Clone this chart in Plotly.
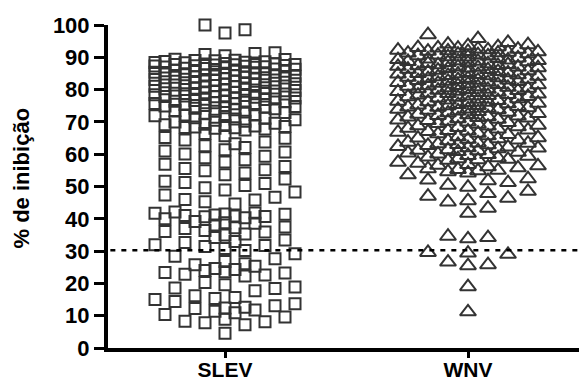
import plotly.graph_objects as go

# ---- data ----
categories = ["SLEV", "WNV"]

slev = [
    100.0, 98.5, 97.5,
    91.4, 90.9, 91.2, 90.5,
    89.3, 88.9, 88.6, 88.1, 88.7, 88.4, 89.1, 87.9, 88.5, 88.2, 89.0, 87.8, 88.3, 89.4, 88.0,
    87.7, 87.4, 87.1, 86.8, 86.4, 87.6, 87.0, 86.2, 87.8, 86.6, 87.3, 86.0, 87.5, 86.9, 86.3, 87.2, 86.5, 86.1,
    85.9, 85.4, 85.1, 84.7, 84.4, 84.1, 83.8, 83.4, 85.7, 84.9, 84.6, 83.9, 83.1, 85.2, 84.8, 83.6, 84.3, 83.0,
    85.5, 84.0, 83.3, 84.5,
    82.9, 82.4, 82.1, 81.7, 81.4, 81.1, 80.9, 80.4, 80.1, 82.6, 81.9, 81.3, 80.6, 80.0, 81.8, 82.2, 81.0, 80.3,
    82.7, 81.6, 80.8, 82.0,
    79.9, 79.4, 79.1, 78.8, 78.4, 78.1, 77.9, 77.4, 77.1, 79.6, 78.9, 78.2, 77.6, 77.0, 78.6, 79.2, 78.0, 77.3,
    79.7, 78.5, 77.8, 79.0,
    76.9, 76.4, 76.1, 75.7, 75.4, 75.1, 74.8, 74.4, 74.1, 76.2, 75.6, 74.9, 74.2, 76.6, 75.9, 74.6, 76.3, 75.3,
    73.8, 73.3, 72.9, 72.5, 72.1, 71.7, 71.3, 70.9, 70.5, 70.2, 73.5, 72.3, 71.1, 70.0, 73.1, 71.9, 70.7,
    69.6, 69.1, 68.7, 68.4, 68.2, 67.8, 68.6, 68.9, 68.3, 67.5, 69.3, 68.0,
    66.4, 65.7, 64.9, 64.4, 63.8, 63.2, 62.6, 65.2, 62.1,
    61.4, 60.7, 60.1, 59.4, 58.9, 58.3, 61.0,
    57.6, 56.9, 56.2, 55.6, 54.9, 54.2, 53.6, 55.2,
    52.3, 51.6, 50.9, 50.3, 49.6, 48.9, 48.3, 51.2,
    47.4, 46.7, 46.0, 45.3, 44.6, 45.8,
    42.1, 41.7, 41.4, 41.2, 40.9, 40.6, 40.3, 40.0, 41.5, 41.0, 40.7, 41.8,
    39.2, 38.6, 38.1, 37.5, 37.0, 36.4, 35.9, 35.3, 38.8, 37.2, 36.1, 35.0,
    34.2, 33.4, 32.7, 32.0, 31.4, 30.8, 30.2, 33.0, 31.7,
    29.2, 28.4, 27.6, 26.8, 26.1, 25.8,
    25.3, 24.6, 24.0, 23.6, 23.2, 22.8, 22.3, 24.3, 23.4, 22.6,
    20.3, 19.6, 18.9, 18.4, 17.7, 18.6,
    16.2, 15.6, 15.0, 14.4, 13.7, 15.3,
    13.1, 12.6, 12.2, 11.8, 11.4, 10.9, 10.4, 12.4,
    9.6, 8.9, 8.3, 7.8, 7.2, 8.1,
    4.6,
]

wnv = [
    97.0, 95.8, 94.6, 94.1, 93.9, 93.6, 93.3, 93.0,
    92.8, 92.5, 92.2, 91.9, 91.6, 91.3, 91.0, 90.7, 90.4, 90.1, 92.6, 92.0, 91.4, 90.8, 90.2, 92.9, 91.7, 91.1, 90.5, 92.3, 91.8,
    89.8, 89.5, 89.2, 88.9, 88.6, 88.3, 88.0, 87.7, 87.4, 87.1, 86.8, 86.5, 86.2, 89.6, 89.0, 88.4, 87.8, 87.2, 86.6, 86.0,
    89.3, 88.7, 88.1, 87.5, 86.9, 86.3, 88.8, 87.0,
    85.8, 85.5, 85.2, 84.9, 84.6, 84.3, 84.0, 83.7, 83.4, 83.1, 82.8, 82.5, 82.2, 85.6, 85.0, 84.4, 83.8, 83.2, 82.6, 82.0,
    85.3, 84.7, 84.1, 83.5, 82.9, 82.3, 84.8, 83.0,
    81.8, 81.5, 81.2, 80.9, 80.6, 80.3, 80.0, 79.7, 79.4, 79.1, 78.8, 78.5, 78.2, 81.6, 81.0, 80.4, 79.8, 79.2, 78.6, 78.0,
    81.3, 80.7, 80.1, 79.5, 78.9, 78.3,
    77.8, 77.4, 77.0, 76.6, 76.2, 75.8, 75.4, 75.0, 74.6, 74.2, 77.6, 76.8, 76.0, 75.2, 74.4, 77.2, 76.4, 75.6, 74.8, 74.0,
    77.9, 75.1, 76.1, 74.5,
    73.8, 73.4, 73.0, 72.6, 72.2, 71.8, 71.4, 71.0, 70.6, 70.2, 73.6, 72.8, 72.0, 71.2, 70.4, 73.2, 72.4, 71.6, 70.8, 70.0,
    73.9, 71.5,
    69.8, 69.3, 68.8, 68.3, 67.8, 67.3, 66.8, 66.3, 69.5, 68.5, 67.5, 66.5, 69.0, 68.0, 67.0, 66.1, 68.7, 67.2,
    65.7, 65.1, 64.6, 64.2, 63.7, 63.2, 62.7, 62.2, 65.4, 64.4, 63.4, 62.4, 64.8, 63.0, 62.0, 65.0,
    63.5, 62.9, 61.9, 60.6, 59.6, 58.4,
    61.7, 61.4, 61.1, 60.8, 60.4, 59.9, 59.4, 58.9, 58.6, 58.3, 61.2, 60.1, 59.1, 58.1,
    57.5, 56.8, 56.1, 55.5, 55.0, 54.6, 54.2, 55.8, 56.4, 54.9, 57.2, 56.6, 55.3,
    53.6, 52.4, 51.8, 51.2, 50.4, 49.8, 52.0,
    48.5, 47.8, 47.0, 46.4, 45.6, 45.2, 43.3, 41.7,
    34.6, 34.2, 33.8,
    29.6, 29.4, 29.0,
    26.6, 25.8, 25.5,
    19.0, 11.2,
]

cutoff = 30.3
y_ticks = [0, 10, 20, 30, 40, 50, 60, 70, 80, 90, 100]

# ---- layout geometry ----
W, H = 579, 380
ML, MR, MT, MB = 108, 0, 25, 32
plot_w = W - ML - MR
plot_h = H - MT - MB
px_per_cat = 243.0
x_lo = -(225 - ML) / px_per_cat
x_hi = x_lo + plot_w / px_per_cat
px_per_y = plot_h / 100.0


def swarm_offsets(values, step=10.0, mw=13.0, mh=12.5, maxoff=70.0, center_pull=1.5):
    """Column-scatter layout: horizontal pixel offsets avoiding overlap."""
    cands = [0.0]
    k = 1
    while k * step <= maxoff + 1e-9:
        cands += [k * step, -k * step]
        k += 1
    order = sorted(range(len(values)), key=lambda i: values[i])
    placed = []
    offs = [0.0] * len(values)
    for i in order:
        y = values[i] * px_per_y
        best, best_score = None, None
        for c in cands:
            score = 0.0
            for (px, py) in placed:
                dx = abs(px - c)
                dy = abs(py - y)
                if dx < mw and dy < mh:
                    score += (mw - dx) * (mh - dy)
            if score == 0:
                best = c
                break
            score += center_pull * abs(c)
            if best_score is None or score < best_score:
                best, best_score = c, score
        placed.append((best, y))
        offs[i] = best
    return offs


def xs_for(values, idx):
    return [idx + o / px_per_cat for o in swarm_offsets(values)]


mcol = "#333333"
fig = go.Figure()
fig.add_trace(go.Scatter(
    x=xs_for(slev, 0), y=slev, mode="markers", cliponaxis=False,
    marker=dict(symbol="square-open", size=11, color=mcol, line=dict(width=2, color=mcol)),
    showlegend=False, name=categories[0]))
fig.add_trace(go.Scatter(
    x=xs_for(wnv, 1), y=wnv, mode="markers", cliponaxis=False,
    marker=dict(symbol="triangle-up-open", size=14, color=mcol, line=dict(width=2, color=mcol)),
    showlegend=False, name=categories[1]))

fig.add_shape(type="line", xref="paper", yref="y", x0=0.005, x1=1, y0=cutoff, y1=cutoff,
              line=dict(color="black", width=2.5, dash="5px,6px"), layer="above")

font_fam = "Arial, Liberation Sans, sans-serif"
bold = lambda s: "<b>%s</b>" % s
fig.update_layout(
    width=W, height=H,
    margin=dict(l=ML, r=MR, t=MT, b=MB, pad=0, autoexpand=False),
    paper_bgcolor="white", plot_bgcolor="white",
    font=dict(family=font_fam, color="black"),
    xaxis=dict(range=[x_lo, x_hi], tickmode="array", tickvals=[0, 1],
               ticktext=[bold(c) for c in categories], automargin=False,
               showgrid=False, zeroline=False, showline=True, linecolor="black", linewidth=4,
               ticks="outside", ticklen=6, tickwidth=3, tickcolor="black",
               ticklabelstandoff=-6,
               tickfont=dict(family=font_fam, size=21, color="black")),
    yaxis=dict(range=[0, 100], tickmode="array", tickvals=y_ticks,
               ticktext=[bold(t) for t in y_ticks], automargin=False,
               showgrid=False, zeroline=False, showline=True, linecolor="black", linewidth=4,
               ticks="outside", ticklen=10, tickwidth=3, tickcolor="black",
               tickfont=dict(family=font_fam, size=22, color="black")),
    annotations=[dict(text="<b>% de inibição</b>", textangle=-90, xref="paper", yref="paper",
                      x=(21 - ML) / plot_w, y=(H - MB - 178.5) / plot_h,
                      xanchor="center", yanchor="middle", showarrow=False,
                      font=dict(family=font_fam, size=22, color="black"))],
)

fig.write_html(
    "out.html",
    config={"displayModeBar": False},
    post_script="document.body.style.margin='0';document.body.style.padding='0';"
                "document.body.style.overflow='hidden';",
)
